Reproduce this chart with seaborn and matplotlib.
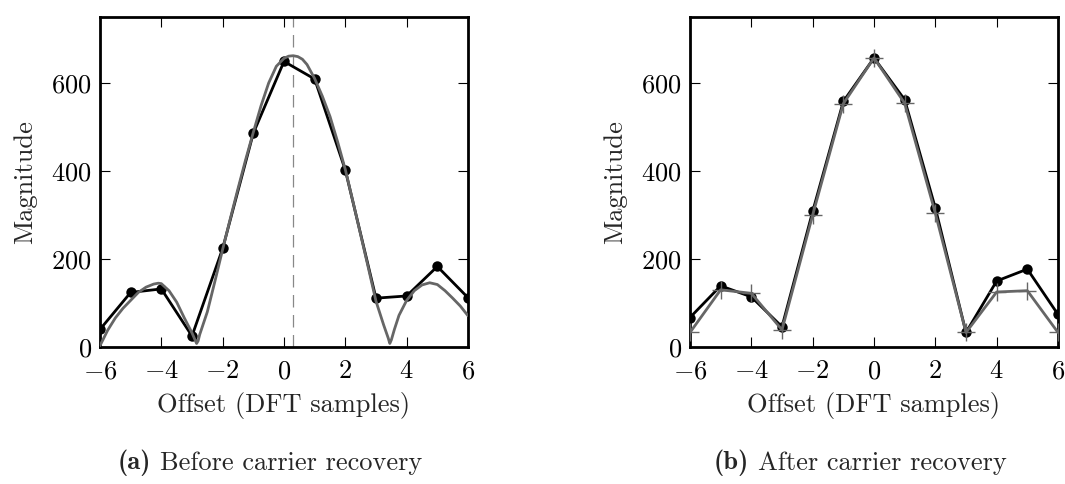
import numpy as np
import pandas as pd
import matplotlib
matplotlib.use("Agg")
import matplotlib.pyplot as plt
import seaborn as sns

# ---------------- data ----------------
offsets = [-6, -5, -4, -3, -2, -1, 0, 1, 2, 3, 4, 5, 6]

# (a) before carrier recovery: measured DFT bins
before_mag = [40, 124, 132, 25, 224, 486, 649, 609, 402, 111, 116, 183, 112]

# (a) continuous spectrum (grey curve)
curve_x = [-6.0, -5.75, -5.5, -5.25, -5.0, -4.75, -4.5, -4.25, -4.1, -4.0,
           -3.75, -3.5, -3.25, -3.0, -2.9, -2.85, -2.8, -2.75, -2.5, -2.25,
           -2.0, -1.75, -1.5, -1.25, -1.0, -0.75, -0.5, -0.25, 0.0, 0.15,
           0.3, 0.45, 0.6, 0.75, 1.0, 1.25, 1.5, 1.75, 2.0, 2.25,
           2.5, 2.75, 3.0, 3.25, 3.4, 3.45, 3.5, 3.6, 3.75, 4.0,
           4.25, 4.5, 4.75, 5.0, 5.25, 5.5, 5.75, 6.0]
curve_y = [3, 38, 66, 88, 106, 124, 136, 143, 145, 144,
           128, 102, 66, 32, 16, 8, 14, 28, 80, 150,
           222, 292, 360, 426, 488, 548, 600, 638, 656, 661,
           662, 660, 654, 642, 610, 570, 524, 466, 403, 330,
           255, 180, 104, 50, 20, 8, 16, 40, 72, 106,
           128, 141, 146, 142, 128, 111, 93, 71]

peak_offset = 0.3

# (b) after carrier recovery
after_mag = [67, 139, 114, 46, 308, 558, 657, 562, 316, 33, 150, 177, 74]
ideal_mag = [33, 130, 122, 39, 300, 553, 657, 554, 304, 33, 125, 128, 33]

xticks = [-6, -4, -2, 0, 2, 4, 6]
yticks = [0, 200, 400, 600]
xlabel = "Offset (DFT samples)"
ylabel = "Magnitude"
cap_tags = ["(a)", "(b)"]
cap_texts = ["Before carrier recovery", "After carrier recovery"]

# ---------------- style ----------------
sns.set_style("ticks")
plt.rcParams["font.family"] = ["cmr10", "DejaVu Serif"]
plt.rcParams["mathtext.fontset"] = "cm"
plt.rcParams["axes.formatter.use_mathtext"] = True
plt.rcParams["axes.unicode_minus"] = True

FS = 19
grey = "#666666"

fig = plt.figure(figsize=(10.65, 4.84), dpi=100)
W, H = 1065, 484
def add_ax(l, r, t, b):
    return fig.add_axes([l / W, 1 - b / H, (r - l) / W, (b - t) / H])

ax_a = add_ax(100, 468, 17, 347)
ax_b = add_ax(690, 1058, 17, 347)

df_a = pd.DataFrame({"x": offsets, "y": before_mag})
df_c = pd.DataFrame({"x": curve_x, "y": curve_y})
df_b1 = pd.DataFrame({"x": offsets, "y": after_mag})
df_b2 = pd.DataFrame({"x": offsets, "y": ideal_mag})

# panel a
ax_a.axvline(peak_offset, color="#888888", lw=0.9, dashes=(10, 6), zorder=1)
sns.lineplot(data=df_a, x="x", y="y", ax=ax_a, color="black", lw=2.0,
             marker="o", markersize=7.5, markeredgewidth=0, zorder=3)
sns.lineplot(data=df_c, x="x", y="y", ax=ax_a, color=grey, lw=2.0, zorder=4)

# panel b
sns.lineplot(data=df_b1, x="x", y="y", ax=ax_b, color="black", lw=2.0,
             marker="o", markersize=7.5, markeredgewidth=0, zorder=3)
sns.lineplot(data=df_b2, x="x", y="y", ax=ax_b, color=grey, lw=2.0,
             marker="+", markersize=13, markeredgewidth=1.0,
             markeredgecolor=grey, zorder=4)

for ax in (ax_a, ax_b):
    ax.set_xlim(-6, 6)
    ax.set_ylim(0, 750)
    ax.set_xticks(xticks)
    ax.set_yticks(yticks)
    ax.tick_params(direction="in", length=7, width=0.8, top=True, right=True,
                   labelsize=FS, colors="black")
    ax.tick_params(axis="x", pad=9)
    ax.tick_params(axis="y", pad=6)
    for s in ax.spines.values():
        s.set_visible(True)
        s.set_linewidth(2.0)
        s.set_color("black")
    ax.set_xlabel(xlabel, fontsize=FS, labelpad=6)
    ax.set_ylabel(ylabel, fontsize=FS, labelpad=10)
    ax.set_facecolor("white")

# captions: bold tag followed by regular text
fig.canvas.draw()
renderer = fig.canvas.get_renderer()
for x0, tag, txt in zip([118, 714], cap_tags, cap_texts):
    t = fig.text(x0 / W, 1 - 463 / H, tag, fontsize=FS, ha="left", va="center",
                 family=["cmb10", "DejaVu Serif"])
    bb = t.get_window_extent(renderer=renderer)
    fig.text((bb.x1 + 9) / W, 1 - 463 / H, txt, fontsize=FS, ha="left",
             va="center")

fig.savefig("out.png", dpi=100, facecolor="white")
